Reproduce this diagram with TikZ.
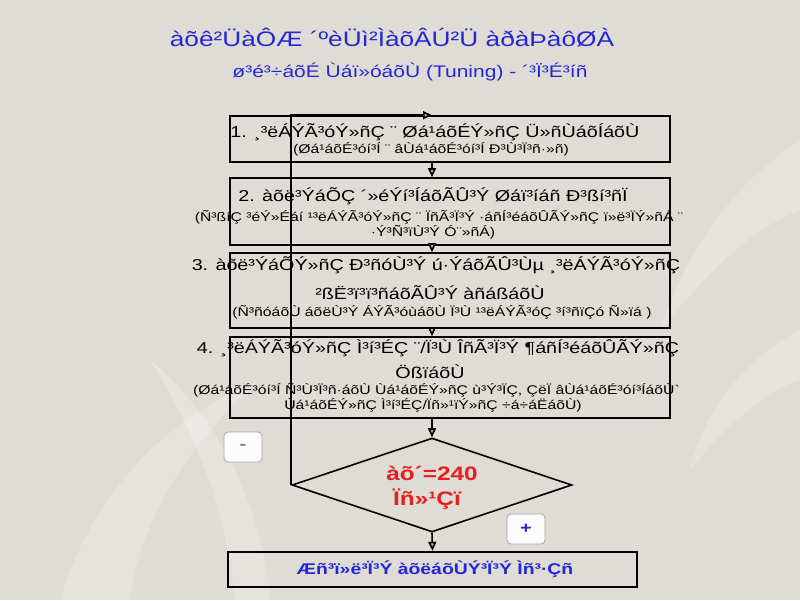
\documentclass[tikz,border=0pt]{standalone}
\usepackage{fontspec}
\setmainfont{Liberation Sans}[FakeStretch=1.25]
\usetikzlibrary{arrows.meta,shapes.geometric,calc}
\definecolor{bgc}{RGB}{223,220,213}
\definecolor{ttl}{RGB}{38,38,212}
\definecolor{redt}{RGB}{232,30,30}
\definecolor{minusc}{RGB}{128,128,112}
\begin{document}
\begin{tikzpicture}[x=1pt,y=-1pt,
  boxst/.style={draw=black,line width=1.6pt,minimum width=440,inner sep=0},
  big/.style={inner sep=0,font=\fontsize{15.8}{18}\selectfont},
  small/.style={inner sep=0,font=\fontsize{12.6}{14}\selectfont},
  arr/.style={line width=1.6pt,-{Triangle[length=9pt,width=8pt,fill=gray!60]}},
  swirl/.style={fill=white,opacity=0.22},
  tag/.style={draw=gray!70,fill=white!92!bgc,rounded corners=4pt,minimum width=38,minimum height=30,line width=0.8pt,font=\bfseries\fontsize{16}{16}\selectfont}]
\useasboundingbox (0,0) rectangle (800,600);
\fill[bgc] (0,0) rectangle (800,600);
% faint background swirls
\fill[swirl] (60,600) .. controls (90,500) and (160,420) .. (260,380) .. controls (190,440) and (140,520) .. (130,600) -- cycle;
\fill[swirl] (150,360) .. controls (220,420) and (260,500) .. (270,600) -- (235,600) .. controls (225,510) and (200,440) .. (150,360) -- cycle;
\fill[swirl] (800,140) .. controls (740,180) and (690,240) .. (660,330) .. controls (710,270) and (750,230) .. (800,210) -- cycle;
\fill[swirl] (800,330) .. controls (740,360) and (700,420) .. (690,470) .. controls (730,420) and (770,390) .. (800,380) -- cycle;
% title
\node[inner sep=0,text=ttl,font=\fontsize{21}{24}\selectfont] (t1) at (392,38) {àõê²ÜàÔÆ ´ºèÜì²ÌàõÂÚ²Ü àðàÞàôØÀ};
\node[inner sep=0,text=ttl,font=\fontsize{16.8}{19}\selectfont] (t2) at (410,72) {ø³é³÷áõÉ Ùáï»óáõÙ (Tuning) - ´³Ï³É³íñ};
% boxes
\node[boxst,minimum height=46] (b1) at (450,139) {};
\node[boxst,minimum height=67] (b2) at (450,211.5) {};
\node[boxst,minimum height=75] (b3) at (450,290.5) {};
\node[boxst,minimum height=81] (b4) at (450,377.5) {};
\node[diamond,draw=black,line width=1.6pt,minimum width=280,minimum height=94,inner sep=0] (dia) at (432,485) {};
\node[draw=black,line width=2.4pt,minimum width=409,minimum height=35,inner sep=0] (fin) at (432.5,569.5) {};
% texts
\node[big] (b1a) at (435,132) {1. ¸³ëÁÝÃ³óÝ»ñÇ ¨ Øá¹áõÉÝ»ñÇ Ü»ñÙáõÍáõÙ};
\node[small] (b1b) at (431,149) {(Øá¹áõÉ³óí³Í ¨ âÙá¹áõÉ³óí³Í Ð³Ù³Ï³ñ·»ñ)};
\node[big] (b2a) at (433,196) {2. àõë³ÝáÕÇ ´»éÝí³ÍáõÃÛ³Ý Øáï³íáñ Ð³ßí³ñÏ};
\node[small] (b2b) at (439,217) {(Ñ³ßíÇ ³éÝ»Éáí ¹³ëÁÝÃ³óÝ»ñÇ ¨ ÏñÃ³Ï³Ý ·áñÍ³éáõÛÃÝ»ñÇ ï»ë³ÏÝ»ñÁ ¨};
\node[small] (b2c) at (433,232) {·Ý³Ñ³ïÙ³Ý Ó¨»ñÁ)};
\node[big] (b3a) at (436,265) {3. àõë³ÝáÕÝ»ñÇ Ð³ñóÙ³Ý ú·ÝáõÃÛ³Ùµ ¸³ëÁÝÃ³óÝ»ñÇ};
\node[big] (b3b) at (430,293) {²ßË³ï³ï³ñáõÃÛ³Ý àñáßáõÙ};
\node[small] (b3c) at (442,312) {(Ñ³ñóáõÙ áõëÙ³Ý ÁÝÃ³óùáõÙ Ï³Ù ¹³ëÁÝÃ³óÇ ³í³ñïÇó Ñ»ïá )};
\node[big] (b4a) at (438,348) {4. ¸³ëÁÝÃ³óÝ»ñÇ Ì³í³ÉÇ ¨/Ï³Ù ÎñÃ³Ï³Ý ¶áñÍ³éáõÛÃÝ»ñÇ};
\node[big] (b4b) at (430,372) {ÖßïáõÙ};
\node[small] (b4c) at (436,390) {(Øá¹áõÉ³óí³Í Ñ³Ù³Ï³ñ·áõÙ Ùá¹áõÉÝ»ñÇ ù³Ý³ÏÇ, ÇëÏ âÙá¹áõÉ³óí³ÍáõÙ\textasciigrave};
\node[small] (b4d) at (433,405) {Ùá¹áõÉÝ»ñÇ Ì³í³ÉÇ/Ïñ»¹ïÝ»ñÇ ÷á÷áËáõÙ)};
\node[inner sep=0,text=redt,font=\bfseries\fontsize{19.5}{21}\selectfont] (d1) at (432,473) {àõ´=240};
\node[inner sep=0,text=redt,font=\bfseries\fontsize{19.5}{21}\selectfont] (d2) at (427,499) {Ïñ»¹Çï};
\node[inner sep=0,text=ttl,font=\bfseries\fontsize{15.5}{18}\selectfont] (fa) at (435,569) {Æñ³ï»ë³Ï³Ý àõëáõÙÝ³Ï³Ý Ìñ³·Çñ};
% connectors
\draw[arr] (b1.south -| dia.north) -- (b2.north -| dia.north);
\draw[arr] (b2.south -| dia.north) -- (b3.north -| dia.north);
\draw[arr] (b3.south -| dia.north) -- (b4.north -| dia.north);
\draw[arr] (b4.south -| dia.north) -- (dia.north);
\draw[arr] (dia.south) -- (fin.north);
\draw[arr] (dia.west) -- (dia.west |- b1.north) -- (b1.north -| dia.north);
% tags
\node[tag,text=minusc] (minus) at (243,447) {-};
\node[tag,text=ttl] (plus) at (526,529) {+};
\end{tikzpicture}
\end{document}
